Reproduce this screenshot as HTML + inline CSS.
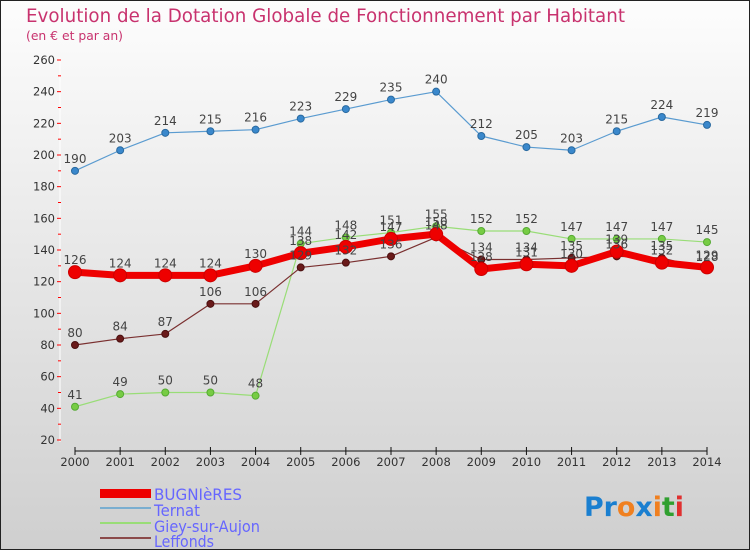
<!DOCTYPE html>
<html><head><meta charset="utf-8"><style>
body{margin:0}
svg{display:block;font-family:"DejaVu Sans","Liberation Sans",sans-serif}
</style></head><body>
<svg id="c" width="750" height="550" viewBox="0 0 750 550" xmlns="http://www.w3.org/2000/svg">
<defs><linearGradient id="bg" x1="0" y1="0" x2="0" y2="1"><stop offset="0" stop-color="#fdfdfd"/><stop offset="1" stop-color="#cfcfcf"/></linearGradient></defs>
<rect x="0.5" y="0.5" width="749" height="549" fill="url(#bg)" stroke="#222"/>
<text x="26" y="22" font-size="19" fill="#c8326e" textLength="599" lengthAdjust="spacingAndGlyphs">Evolution de la Dotation Globale de Fonctionnement par Habitant</text>
<text x="26" y="40" font-size="12" fill="#c8326e" textLength="97" lengthAdjust="spacingAndGlyphs">(en € et par an)</text>
<g id="axes"></g><g id="series"></g><g id="labels"></g>
<g>
<rect x="100" y="489" width="51" height="9" fill="#e00"/>
<text x="154" y="500" font-size="16" fill="#6666ff" textLength="88" lengthAdjust="spacingAndGlyphs">BUGNIèRES</text>
<rect x="100" y="507" width="51" height="2" fill="#7aaed0"/>
<text x="154" y="516" font-size="16" fill="#6666ff" textLength="46" lengthAdjust="spacingAndGlyphs">Ternat</text>
<rect x="100" y="522" width="51" height="2" fill="#99dd77"/>
<text x="154" y="532" font-size="16" fill="#6666ff" textLength="106" lengthAdjust="spacingAndGlyphs">Giey-sur-Aujon</text>
<rect x="100" y="537" width="51" height="2" fill="#8b4a4a"/>
<text x="154" y="547" font-size="16" fill="#6666ff" textLength="60" lengthAdjust="spacingAndGlyphs">Leffonds</text>
</g>
<text x="584" y="516" font-size="27" font-weight="bold" textLength="100" lengthAdjust="spacingAndGlyphs"><tspan fill="#1a7fd0">Pr</tspan><tspan fill="#f08020">o</tspan><tspan fill="#1a7fd0">x</tspan><tspan fill="#f08020">i</tspan><tspan fill="#30a030">t</tspan><tspan fill="#e03030">i</tspan></text>
</svg>
<script>
const years=["2000","2001","2002","2003","2004","2005","2006","2007","2008","2009","2010","2011","2012","2013","2014"];
const yTicks=[20,40,60,80,100,120,140,160,180,200,220,240,260];
const bugnieres=[126,124,124,124,130,138,142,147,150,128,131,130,139,132,129];
const ternat=[190,203,214,215,216,223,229,235,240,212,205,203,215,224,219];
const giey=[41,49,50,50,48,144,148,151,155,152,152,147,147,147,145];
const leffonds=[80,84,87,106,106,129,132,136,148,134,134,135,136,135,128];
const NS="http://www.w3.org/2000/svg";
const x=i=>75+i*(707-75)/14;
const y=v=>440-(v-20)*380/240;
function mk(p,t,a){const e=document.createElementNS(NS,t);for(const k in a)e.setAttribute(k,a[k]);p.appendChild(e);return e;}
const ax=document.getElementById('axes');
const yl=mk(ax,'line',{x1:60,y1:58,x2:60,y2:442,stroke:'#fff','stroke-width':1});


yTicks.forEach(v=>{
 const t=mk(ax,'text',{x:55,y:y(v)+4,'font-size':11.5,fill:'#333','text-anchor':'end'});t.textContent=v;
 
 
 mk(ax,'line',{x1:57,x2:61,y1:y(v),y2:y(v),stroke:'#f00'});
 if(v<260) mk(ax,'line',{x1:58,x2:61,y1:y(v+10),y2:y(v+10),stroke:'#f00'});
});
const xl=mk(ax,'line',{x1:75,y1:451,x2:707,y2:451,stroke:'#111','stroke-width':1});


years.forEach((yr,i)=>{
 mk(ax,'line',{x1:x(i),x2:x(i),y1:447,y2:455,stroke:'#111'});
 const t=mk(ax,'text',{x:x(i),y:466,'font-size':11.5,fill:'#333','text-anchor':'middle'});t.textContent=yr;
 
 
});
const sg=document.getElementById('series'),lg=document.getElementById('labels');
function draw(vals,name,col,w,r,dot,dotStroke){
 const g=mk(sg,'g',{});
 
 
 mk(g,'polyline',{points:vals.map((v,i)=>x(i)+','+y(v)).join(' '),fill:'none',stroke:col,'stroke-width':w,'stroke-linejoin':'round'});
 vals.forEach((v,i)=>{
  const c=mk(g,'circle',{cx:x(i),cy:y(v),r:r,fill:dot,stroke:dotStroke,'stroke-width':1});
  
  
  const t=mk(lg,'text',{x:x(i),y:y(v)-8,'font-size':12,fill:'#444','text-anchor':'middle'});t.textContent=v;
  
  
 });
}
draw(ternat,'ternat','#5a9bd0',1.2,3.5,'#3a88cc','#2a6aa0');
draw(giey,'giey','#99dd77',1.2,3.5,'#77cc44','#55aa33');
draw(leffonds,'leffonds','#7a3030',1.2,3.5,'#6a1a1a','#4a1010');
draw(bugnieres,'bugnieres','#ee0000',7,6.5,'#ee0000','#cc0000');
</script>
</body></html>
